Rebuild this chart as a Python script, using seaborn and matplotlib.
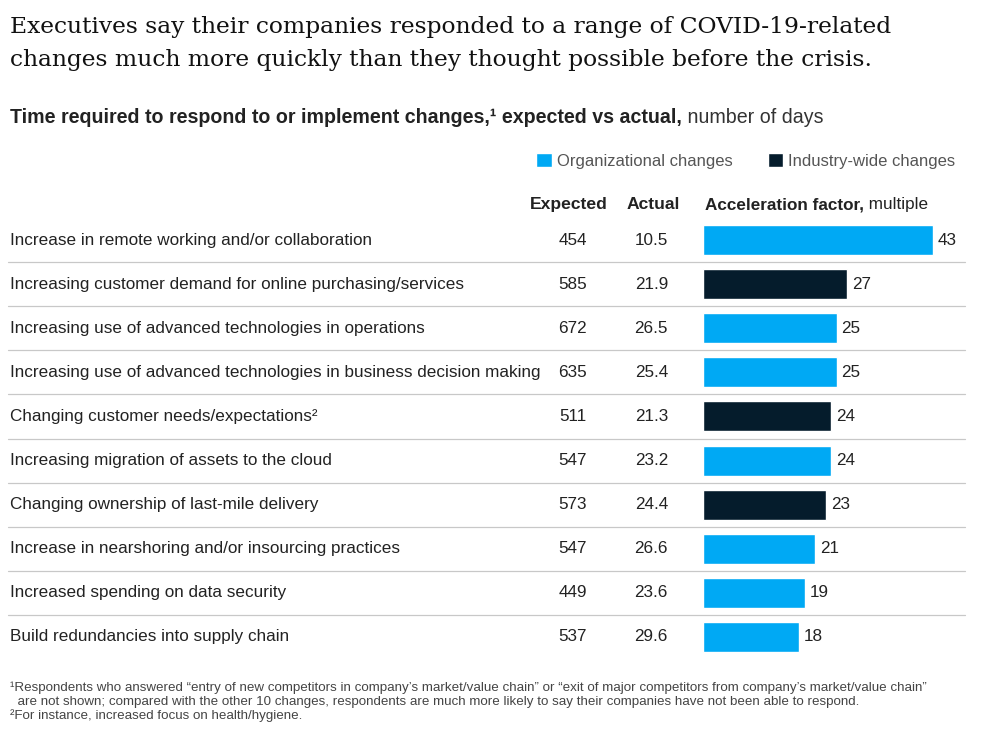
import matplotlib
matplotlib.use('Agg')
import matplotlib.pyplot as plt
import seaborn as sns
import pandas as pd
from matplotlib.patches import Patch
from matplotlib.transforms import blended_transform_factory

# ---------------- data ----------------
categories = [
    "Increase in remote working and/or collaboration",
    "Increasing customer demand for online purchasing/services",
    "Increasing use of advanced technologies in operations",
    "Increasing use of advanced technologies in business decision making",
    "Changing customer needs/expectations\u00b2",
    "Increasing migration of assets to the cloud",
    "Changing ownership of last-mile delivery",
    "Increase in nearshoring and/or insourcing practices",
    "Increased spending on data security",
    "Build redundancies into supply chain",
]
expected = [454, 585, 672, 635, 511, 547, 573, 547, 449, 537]
actual = [10.5, 21.9, 26.5, 25.4, 21.3, 23.2, 24.4, 26.6, 23.6, 29.6]
factor = [43, 27, 25, 25, 24, 24, 23, 21, 19, 18]
change_type = ["Organizational changes", "Industry-wide changes", "Organizational changes",
               "Organizational changes", "Industry-wide changes", "Organizational changes",
               "Industry-wide changes", "Organizational changes", "Organizational changes",
               "Organizational changes"]
type_order = ["Organizational changes", "Industry-wide changes"]

title_lines = ["Executives say their companies responded to a range of COVID-19-related",
               "changes much more quickly than they thought possible before the crisis."]
subtitle_bold = "Time required to respond to or implement changes,\u00b9 expected vs actual,"
subtitle_norm = " number of days"
footnotes = [
    "\u00b9Respondents who answered \u201centry of new competitors in company\u2019s market/value chain\u201d or \u201cexit of major competitors from company\u2019s market/value chain\u201d",
    "  are not shown; compared with the other 10 changes, respondents are much more likely to say their companies have not been able to respond.",
    "\u00b2For instance, increased focus on health/hygiene.",
]

BLUE = "#00A9F4"
DARK = "#051C2C"
TEXT = "#222222"
GRAY = "#555555"
LINE = "#c8c8c8"

sns.set_theme(style="white")
plt.rcParams['font.family'] = ['Liberation Sans', 'DejaVu Sans']

W, H = 987, 745
fig = plt.figure(figsize=(W / 100, H / 100), dpi=100)


def fx(px):
    return px / W


def fy(py):
    return 1 - py / H


# bar axes
ax_left, ax_right, ax_top, ax_bot = 703, 965, 218, 659
ax = fig.add_axes([fx(ax_left), fy(ax_bot), (ax_right - ax_left) / W, (ax_bot - ax_top) / H])

df = pd.DataFrame({"category": categories, "factor": factor, "type": change_type})
sns.barplot(data=df, x="factor", y="category", hue="type", hue_order=type_order,
            palette=[BLUE, DARK], dodge=False, width=0.68, orient="h",
            saturation=1, errorbar=None, legend=False, ax=ax)
px_per_unit = 5.35
ax.set_xlim(0, (ax_right - ax_left) / px_per_unit)
ax.set_ylim(len(categories) - 0.5, -0.5)
ax.axis('off')

LBL = 12.3
for c in ax.containers:
    ax.bar_label(c, fmt="%g", padding=3.5, fontsize=LBL, color=TEXT)

trans = blended_transform_factory(fig.transFigure, ax.transData)
for i, cat in enumerate(categories):
    ax.text(fx(10), i, cat, transform=trans, ha="left", va="center", fontsize=LBL, color=TEXT)
    ax.text(fx(587), i, f"{expected[i]}", transform=trans, ha="right", va="center",
            fontsize=LBL, color=TEXT)
    ax.text(fx(668), i, f"{actual[i]:.1f}", transform=trans, ha="right", va="center",
            fontsize=LBL, color=TEXT)

xmin_sep = (8 - ax_left) / (ax_right - ax_left)
for i in range(len(categories) - 1):
    ax.axhline(i + 0.5, xmin=xmin_sep, xmax=1, clip_on=False, color=LINE, lw=0.9)

# title
for line, yb in zip(title_lines, [33, 66]):
    fig.text(fx(10), fy(yb), line, fontsize=16.8, family=['DejaVu Serif'],
             color="#111111", va="baseline")

renderer = fig.canvas.get_renderer()


def mixed(x_px, y_px, bold, norm, size, color_b, color_n):
    t = fig.text(fx(x_px), fy(y_px), bold, fontsize=size, fontweight="bold", color=color_b,
                 va="baseline")
    bb = t.get_window_extent(renderer=renderer)
    fig.text(bb.x1 / W, fy(y_px), norm, fontsize=size, color=color_n, va="baseline")


mixed(10, 123, subtitle_bold, subtitle_norm, 14.1, TEXT, "#333333")

# legend
handles = [Patch(facecolor=BLUE, label=type_order[0]), Patch(facecolor=DARK, label=type_order[1])]
fig.legend(handles=handles, loc="center left", bbox_to_anchor=(fx(536), fy(161)), ncol=2,
           frameon=False, handlelength=0.95, handleheight=0.95, handletextpad=0.3,
           columnspacing=2.1, fontsize=12, labelcolor=GRAY, borderaxespad=0, borderpad=0)

# column headers
fig.text(fx(530), fy(209), "Expected", fontsize=12.6, fontweight="bold", color=TEXT, va="baseline")
fig.text(fx(627), fy(209), "Actual", fontsize=12.6, fontweight="bold", color=TEXT, va="baseline")
mixed(705, 209, "Acceleration factor,", " multiple", 12.3, TEXT, TEXT)

# footnotes
for line, y in zip(footnotes, [688, 702, 716]):
    fig.text(fx(10), fy(y), line, fontsize=9.6, color="#444444", va="center")

fig.savefig("out.png", dpi=100)
